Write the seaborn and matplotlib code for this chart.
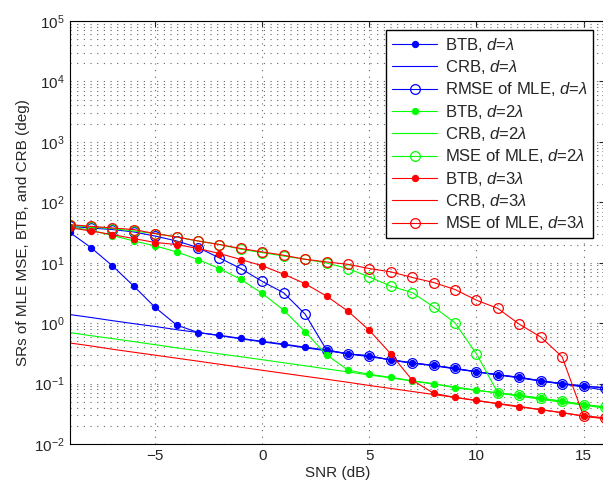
import numpy as np
import matplotlib
matplotlib.use('Agg')
import matplotlib.pyplot as plt
import seaborn as sns

# SNR grid (dB)
snr = [-9, -8, -7, -6, -5, -4, -3, -2, -1, 0, 1, 2, 3, 4, 5, 6, 7, 8, 9, 10, 11, 12, 13, 14, 15, 16]

# d = lambda
btb_1 = [32, 17.8, 8.9, 4.1, 1.82, 0.93, 0.70, 0.63, 0.56, 0.50, 0.45, 0.40, 0.36, 0.31, 0.288,
         0.245, 0.218, 0.20, 0.178, 0.157, 0.14, 0.127, 0.111, 0.10, 0.091, 0.085]
crb_1 = [1.39, 1.24, 1.10, 0.98, 0.88, 0.78, 0.70, 0.62, 0.55, 0.49, 0.44, 0.39, 0.35, 0.31, 0.278,
         0.248, 0.221, 0.197, 0.175, 0.156, 0.139, 0.124, 0.110, 0.098, 0.088, 0.078]
mle_1 = [40, 37.6, 35.4, 32.3, 27.6, 22.9, 17.8, 12.0, 8.0, 4.9, 3.17, 1.41, 0.36, 0.31, 0.288,
         0.245, 0.218, 0.20, 0.178, 0.157, 0.14, 0.127, 0.111, 0.10, 0.091, 0.085]

# d = 2 lambda
btb_2 = [39, 34.5, 28.2, 22.9, 19, 15.1, 11.3, 8.0, 5.3, 3.1, 1.64, 0.72, 0.30, 0.167, 0.142,
         0.127, 0.111, 0.10, 0.085, 0.077, 0.070, 0.064, 0.057, 0.051, 0.045, 0.041]
crb_2 = [0.70, 0.62, 0.555, 0.495, 0.44, 0.39, 0.35, 0.31, 0.278, 0.248, 0.221, 0.197, 0.175, 0.156,
         0.139, 0.124, 0.110, 0.098, 0.088, 0.078, 0.070, 0.062, 0.055, 0.049, 0.044, 0.039]
mle_2 = [41.7, 39, 36.7, 33.5, 30.3, 26.7, 22.9, 20, 16.7, 14.7, 12.9, 11.4, 9.9, 8.0, 5.8,
         4.1, 3.2, 1.86, 1.01, 0.31, 0.070, 0.064, 0.057, 0.051, 0.045, 0.041]

# d = 3 lambda
btb_3 = [38, 33.5, 29.2, 25.1, 21.6, 20, 17.2, 14.2, 11.3, 8.9, 6.45, 4.5, 2.8, 1.58, 0.76,
         0.31, 0.114, 0.069, 0.059, 0.053, 0.046, 0.041, 0.037, 0.033, 0.029, 0.027]
crb_3 = [0.47, 0.42, 0.37, 0.33, 0.295, 0.263, 0.235, 0.209, 0.186, 0.166, 0.148, 0.132, 0.118,
         0.105, 0.093, 0.083, 0.074, 0.066, 0.059, 0.052, 0.047, 0.042, 0.037, 0.033, 0.029, 0.026]
mle_3 = [42.7, 40, 37.6, 35.4, 30.3, 26.7, 22.9, 20, 17.2, 15.1, 13.3, 11.4, 10.3, 9.4, 8.0,
         7.06, 5.7, 4.7, 3.6, 2.4, 1.75, 0.96, 0.59, 0.277, 0.029, 0.027]

sns.set_style('white')
plt.rcParams['font.family'] = ['Liberation Sans', 'DejaVu Sans']
plt.rcParams['mathtext.fontset'] = 'custom'
plt.rcParams['mathtext.rm'] = 'Liberation Sans'
plt.rcParams['mathtext.it'] = 'Liberation Sans:italic'
plt.rcParams['font.size'] = 11

fig = plt.figure(figsize=(6.03, 4.86), dpi=100)
ax = fig.add_axes([0.1153, 0.0864, 0.888, 0.8704])

series = [
    (btb_1, crb_1, mle_1, 'blue', r'$\mathit{d}$=$\mathit{λ}$', 'RMSE'),
    (btb_2, crb_2, mle_2, 'lime', r'$\mathit{d}$=$\mathit{2λ}$', 'MSE'),
    (btb_3, crb_3, mle_3, 'red', r'$\mathit{d}$=$\mathit{3λ}$', 'MSE'),
]

for btb, crb, mle, col, dlab, mname in series:
    sns.lineplot(x=snr, y=btb, ax=ax, color=col, lw=0.8, marker='o', markersize=4.5,
                 markeredgecolor=col, markerfacecolor=col, label='BTB, ' + dlab)
    sns.lineplot(x=snr, y=crb, ax=ax, color=col, lw=0.8, label='CRB, ' + dlab)
    sns.lineplot(x=snr, y=mle, ax=ax, color=col, lw=0.8, marker='o', markersize=7,
                 markeredgecolor=col, markerfacecolor='none', markeredgewidth=0.9,
                 label=mname + ' of MLE, ' + dlab)

ax.set_yscale('log')
ax.set_xlim(-9, 16)
ax.set_ylim(1e-2, 1e5)
ax.set_xticks([-5, 0, 5, 10, 15])
ax.set_xticklabels(['\u22125', '0', '5', '10', '15'])
ax.set_yticks([10.0 ** k for k in range(-2, 6)])

grid_style = dict(linestyle=(0, (1, 5)), color='0.4', lw=0.8)
ax.grid(True, which='major', axis='both', **grid_style)
ax.grid(True, which='minor', axis='y', **grid_style)
ax.tick_params(direction='in', which='both', top=True, right=True, labelsize=11)
ax.tick_params(which='major', length=4)
ax.tick_params(which='minor', length=2)
for sp in ax.spines.values():
    sp.set_color('black')
    sp.set_linewidth(0.8)

ax.set_xlabel('SNR (dB)', fontsize=11, labelpad=2)
ax.set_ylabel('SRs of MLE MSE, BTB, and CRB (deg)', fontsize=11, labelpad=3)

leg = ax.legend(loc='upper right', bbox_to_anchor=(0.978, 0.979), borderaxespad=0,
                fontsize=12, handlelength=2.7, handletextpad=0.45, labelspacing=0.26,
                borderpad=0.35, fancybox=False, framealpha=1, edgecolor='black')
leg.get_frame().set_linewidth(1.0)

fig.savefig('out.png', dpi=100)
